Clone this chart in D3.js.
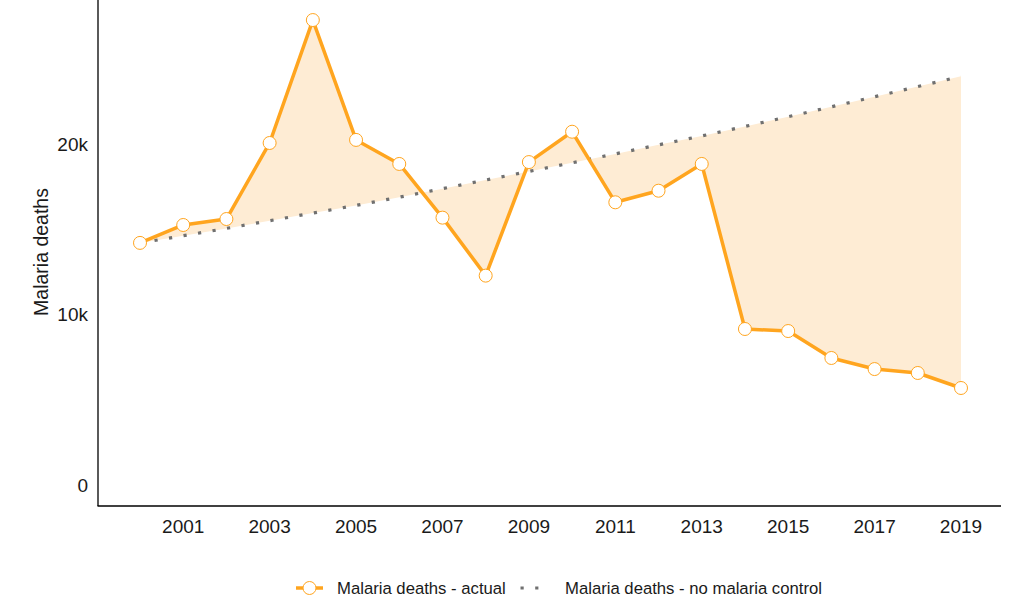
<!DOCTYPE html>
<html>
<head>
<meta charset="utf-8">
<script src="https://cdn.jsdelivr.net/npm/d3@7"></script>
<style>
  body { margin: 0; background: #fff; }
  text { font-family: "Liberation Sans", Arial, sans-serif; fill: #1a1a1a; }
</style>
</head>
<body>
<svg id="chart" width="1015" height="607"></svg>
<script>
// values
var years = [2000, 2001, 2002, 2003, 2004, 2005, 2006, 2007, 2008, 2009,
             2010, 2011, 2012, 2013, 2014, 2015, 2016, 2017, 2018, 2019];
var actual = [14200, 15250, 15600, 20060, 27270, 20240, 18830, 15680, 12280, 18940,
              20720, 16580, 17260, 18830, 9150, 9030, 7450, 6800, 6570, 5690];
var noControl = [14200, 14620, 15050, 15500, 15950, 16400, 16880, 17380, 17890, 18390,
                 18900, 19420, 19950, 20470, 21030, 21600, 22180, 22770, 23370, 23970];
var xTicks = [2001, 2003, 2005, 2007, 2009, 2011, 2013, 2015, 2017, 2019];
var yTicks = [0, 10000, 20000];
var yTickLabels = ["0", "10k", "20k"];
var legendLabels = ["Malaria deaths - actual", "Malaria deaths - no malaria control"];

var orange = "#ffa51f", fillCol = "#feecd4", grey = "#707070";

var svg = d3.select("#chart");
var x = d3.scaleLinear().domain([2000, 2019]).range([140, 961]);
var y = d3.scaleLinear().domain([0, 20000]).range([485, 144]);

var rows = years.map(function(yr, i){ return {year: yr, a: actual[i], n: noControl[i]}; });

// shaded gap between the two series
svg.append("path")
  .datum(rows)
  .attr("fill", fillCol)
  .attr("d", d3.area()
    .x(function(d){ return x(d.year); })
    .y0(function(d){ return y(d.n); })
    .y1(function(d){ return y(d.a); }));

// axes lines only, no ticks
svg.append("line").attr("x1", 98).attr("x2", 98).attr("y1", 0).attr("y2", 506)
  .attr("stroke", "#000").attr("stroke-width", 1.3);
svg.append("line").attr("x1", 97.5).attr("x2", 1001).attr("y1", 506).attr("y2", 506)
  .attr("stroke", "#000").attr("stroke-width", 1.3);

svg.selectAll("text.ytick").data(yTicks).enter().append("text")
  .attr("class", "ytick")
  .attr("x", 88).attr("y", function(d){ return y(d); })
  .attr("dy", "0.35em").attr("text-anchor", "end")
  .style("font-size", "19px")
  .text(function(d, i){ return yTickLabels[i]; });

svg.selectAll("text.xtick").data(xTicks).enter().append("text")
  .attr("class", "xtick")
  .attr("x", function(d){ return x(d); }).attr("y", 533)
  .attr("text-anchor", "middle")
  .style("font-size", "19px")
  .text(function(d){ return d; });

svg.append("text")
  .attr("transform", "translate(48,252) rotate(-90)")
  .attr("text-anchor", "middle")
  .style("font-size", "19.5px")
  .text("Malaria deaths");

// counterfactual dotted line
svg.append("path")
  .datum(rows)
  .attr("fill", "none")
  .attr("stroke", grey)
  .attr("stroke-width", 3.2)
  .attr("stroke-dasharray", "3.2 11.5")
  .attr("d", d3.line().x(function(d){ return x(d.year); }).y(function(d){ return y(d.n); }));

// actual line + points
svg.append("path")
  .datum(rows)
  .attr("fill", "none")
  .attr("stroke", orange)
  .attr("stroke-width", 3.5)
  .attr("stroke-linejoin", "round")
  .attr("d", d3.line().x(function(d){ return x(d.year); }).y(function(d){ return y(d.a); }));

svg.selectAll("circle.pt").data(rows).enter().append("circle")
  .attr("class", "pt")
  .attr("cx", function(d){ return x(d.year); })
  .attr("cy", function(d){ return y(d.a); })
  .attr("r", 6.5)
  .attr("fill", "#fff")
  .attr("stroke", orange)
  .attr("stroke-width", 1);

// legend
var lg = svg.append("g");
lg.append("line").attr("x1", 296).attr("x2", 323).attr("y1", 588).attr("y2", 588)
  .attr("stroke", orange).attr("stroke-width", 3.5);
lg.append("circle").attr("cx", 309.5).attr("cy", 588).attr("r", 6.5)
  .attr("fill", "#fff").attr("stroke", orange).attr("stroke-width", 1);
lg.append("text").attr("x", 337).attr("y", 594).style("font-size", "16.7px").text(legendLabels[0]);
lg.append("line").attr("x1", 520.5).attr("x2", 539).attr("y1", 588).attr("y2", 588)
  .attr("stroke", grey).attr("stroke-width", 3.2).attr("stroke-dasharray", "3.2 11.5");
lg.append("text").attr("x", 565).attr("y", 594).style("font-size", "16.7px").text(legendLabels[1]);
</script>
</body>
</html>
